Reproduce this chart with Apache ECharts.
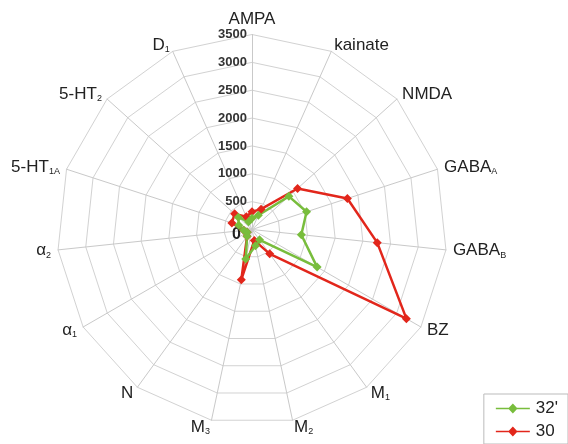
<!DOCTYPE html>
<html>
<head>
    <meta charset="utf-8">
    <title>radar</title>
    <script src="https://cdn.jsdelivr.net/npm/echarts@6/dist/echarts.min.js"></script>
    <style type="text/css">
        *{margin: 0;padding: 0;}
        body{background: #fff;}
        #main{width: 568px;height: 444px;}
    </style>
</head>
<body>
<div id="main"></div>
<script type="text/javascript">
    // receptors, clockwise from the top
    var names = ['AMPA', 'kainate', 'NMDA', 'GABA{s|A}', 'GABA{s|B}', 'BZ', 'M{s|1}', 'M{s|2}', 'M{s|3}',
        'N', 'α{s|1}', 'α{s|2}', '5-HT{s|1A}', '5-HT{s|2}', 'D{s|1}'];
    var data32 = [200, 280, 890, 1030, 890, 1350, 230, 300, 540, 150, 100, 150, 250, 330, 150];
    var data30 = [320, 400, 1100, 1800, 2260, 3200, 540, 200, 920, 150, 100, 150, 380, 420, 250];
    var ticks = ['0', '500', '1000', '1500', '2000', '2500', '3000', '3500'];
    var maxVal = 3500;

    // echarts puts indicators counterclockwise, so turn the order round
    var order = [0];
    for(var i=names.length-1;i>0;i--){
        order.push(i);
    }
    function pick(arr){
        return order.map(function(k){ return arr[k]; });
    }

    var cx = 252, cy = 229.5;

    var indicator = order.map(function(k, idx){
        var ind = {name: names[k], max: maxVal, min: 0};
        if(idx == 0){
            ind.axisLabel = {
                show: true,
                showMinLabel: false,
                color: '#333',
                fontSize: 13,
                fontWeight: 'bold',
                margin: 5,
                formatter: function(v){ return v == 0 ? '' : ticks[Math.round(v/500)]; }
            };
        }
        return ind;
    });

    // line with a diamond in the middle, for the legend
    var legendIcon = 'path://M0,4.3 L13,4.3 L17,0 L21,4.3 L34,4.3 L34,5.7 L21,5.7 L17,10 L13,5.7 L0,5.7 Z';

    var myChart = echarts.init(document.getElementById('main'));
    var option = {
        backgroundColor: '#fff',
        textStyle: {fontFamily: 'Liberation Sans'},
        legend: {
            data: [{name: "32'", icon: legendIcon}, {name: '30', icon: legendIcon}],
            orient: 'vertical',
            right: 0,
            bottom: 0,
            itemWidth: 36,
            itemHeight: 10,
            itemGap: 6,
            padding: [6, 10, 4, 12],
            borderColor: '#bbb',
            borderWidth: 1,
            textStyle: {fontSize: 17, color: '#222'}
        },
        // the "0" at the centre, which the radar axis leaves out
        graphic: [{
            type: 'text',
            left: cx - 20,
            top: cy - 3,
            z: 1,
            style: {text: ticks[0], fill: '#222', font: 'bold 16px "Liberation Sans"'}
        }],
        radar: {
            center: [cx, cy],
            radius: 195,
            shape: 'polygon',
            splitNumber: 7,
            nameGap: 7,
            axisName: {
                color: '#222',
                fontSize: 17,
                rich: {
                    s: {fontSize: 9, padding: [9, 0, 0, 0], color: '#222'}
                }
            },
            axisLabel: {show: false},
            axisLine: {lineStyle: {color: '#c9c9c9', width: 1}},
            splitLine: {lineStyle: {color: '#d2d2d2', width: 1}},
            splitArea: {show: false},
            indicator: indicator
        },
        series: [{
            type: 'radar',
            symbol: 'diamond',
            symbolSize: 9,
            z: 3,
            lineStyle: {width: 2.5},
            data: [
                {
                    name: '30',
                    value: pick(data30),
                    itemStyle: {color: '#e2261b'},
                    lineStyle: {color: '#e2261b', width: 2.5}
                },
                {
                    name: "32'",
                    value: pick(data32),
                    itemStyle: {color: '#78bd3c'},
                    lineStyle: {color: '#78bd3c', width: 2.5}
                }
            ]
        }]
    };
    myChart.setOption(option);
</script>
</body>
</html>
